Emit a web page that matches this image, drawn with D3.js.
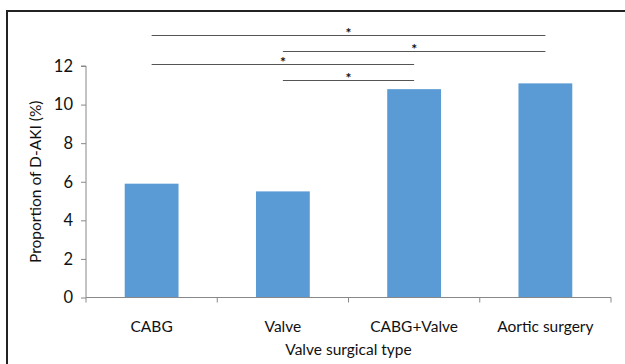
<!DOCTYPE html>
<html>
<head>
<meta charset="utf-8">
<script src="https://cdn.jsdelivr.net/npm/d3@7"></script>
<style>
  html, body { margin: 0; padding: 0; background: #fff; }
  svg { display: block; }
  text { font-family: Lato, "Open Sans", sans-serif; fill: #111; }
</style>
</head>
<body>
<svg id="chart" width="625" height="364"></svg>
<script>
// Surgical categories and proportion of D-AKI (%)
const categories = ["CABG", "Valve", "CABG+Valve", "Aortic surgery"];
const values = [5.9, 5.5, 10.8, 11.1];
const yTicks = [0, 2, 4, 6, 8, 10, 12];

// Significance brackets: from category, to category, height (in % units)
const sigFrom = ["CABG", "Valve", "CABG", "Valve"];
const sigTo = ["Aortic surgery", "Aortic surgery", "CABG+Valve", "CABG+Valve"];
const sigLevel = [13.6, 12.8, 12.1, 11.25];
const sigLabel = ["*", "*", "*", "*"];

const svg = d3.select("#chart");
const margin = { left: 86, right: 14, top: 66, bottom: 66 };
const W = 625, H = 364;

// Outer frame
svg.append("path")
  .attr("d", "M7,370 V11 H630")
  .attr("fill", "none")
  .attr("stroke", "#222")
  .attr("stroke-width", 2);

const x = d3.scaleBand()
  .domain(categories)
  .range([margin.left, W - margin.right])
  .paddingInner(0.59)
  .paddingOuter(0.295);

const y = d3.scaleLinear()
  .domain([0, 12])
  .range([H - margin.bottom - 0.5, margin.top]);

// Bars
svg.append("g")
  .selectAll("rect")
  .data(categories)
  .join("rect")
  .attr("x", d => x(d))
  .attr("width", x.bandwidth())
  .attr("y", (d, i) => y(values[i]))
  .attr("height", (d, i) => y(0) - y(values[i]))
  .attr("fill", "#5B9BD5");

// Y axis
const yAxis = svg.append("g")
  .attr("transform", `translate(${margin.left},0)`)
  .call(d3.axisLeft(y).tickValues(yTicks).tickSize(5).tickPadding(8));
yAxis.select(".domain").attr("stroke", "#888").attr("d", `M-5,${y(12)}H0V${y(0)}`);
yAxis.selectAll(".tick line").attr("stroke", "#888");
yAxis.selectAll("text").attr("font-size", 16.5).attr("fill", "#111")
  .style("font-family", "Lato, sans-serif");

// X axis with ticks at category boundaries
const xAxisG = svg.append("g").attr("transform", `translate(0,${y(0)})`);
xAxisG.append("line")
  .attr("x1", margin.left).attr("x2", W - margin.right)
  .attr("stroke", "#888");
const bounds = d3.range(categories.length + 1).map(i => margin.left + i * (W - margin.left - margin.right) / categories.length);
xAxisG.selectAll(".xt").data(bounds).join("line")
  .attr("x1", d => d).attr("x2", d => d)
  .attr("y1", 0).attr("y2", 5)
  .attr("stroke", "#888");
xAxisG.selectAll(".xl").data(categories).join("text")
  .attr("x", d => x(d) + x.bandwidth() / 2)
  .attr("y", 34)
  .attr("text-anchor", "middle")
  .attr("font-size", 15.5)
  .text(d => d);

// Axis titles
svg.append("text")
  .attr("x", (margin.left + W - margin.right) / 2)
  .attr("y", 355)
  .attr("text-anchor", "middle")
  .attr("font-size", 15.5)
  .text("Valve surgical type");

svg.append("text")
  .attr("transform", `translate(41,${(y(0) + y(12)) / 2}) rotate(-90)`)
  .attr("text-anchor", "middle")
  .attr("font-size", 15.5)
  .text("Proportion of D-AKI (%)");

// Significance brackets
const cx = c => x(c) + x.bandwidth() / 2;
const sig = svg.append("g");
sigFrom.forEach((f, i) => {
  sig.append("line")
    .attr("x1", cx(f)).attr("x2", cx(sigTo[i]))
    .attr("y1", Math.round(y(sigLevel[i])) + 0.5)
    .attr("y2", Math.round(y(sigLevel[i])) + 0.5)
    .attr("stroke", "#555").attr("stroke-width", 1);
  sig.append("text")
    .attr("x", (cx(f) + cx(sigTo[i])) / 2)
    .attr("y", y(sigLevel[i]) + 3)
    .attr("text-anchor", "middle")
    .attr("font-size", 14)
    .attr("font-weight", "bold")
    .text(sigLabel[i]);
});
</script>
</body>
</html>
